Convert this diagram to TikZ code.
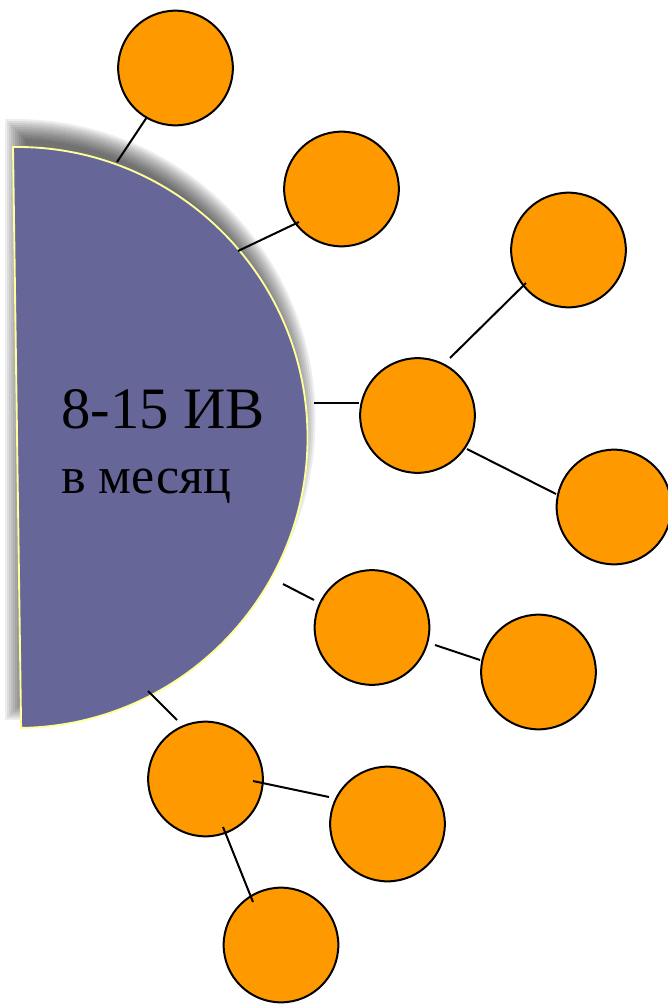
\documentclass[tikz,border=0pt]{standalone}
\usepackage{fontspec}
\setmainfont{Liberation Serif}
\usetikzlibrary{calc}
\definecolor{discblue}{HTML}{666699}
\definecolor{rimyellow}{HTML}{FFFF99}
\definecolor{dotorange}{HTML}{FF9900}

\begin{document}
\begin{tikzpicture}[x=0.75pt,y=-0.75pt,
  disc/.style={fill=discblue,draw=rimyellow,line width=1.4pt},
  blob/.style={circle,fill=dotorange,draw=black,line width=1.5pt,minimum size=86pt,inner sep=0pt},
  link/.style={draw=black,line width=1.5pt},
  caption/.style={anchor=base west,inner sep=0pt}
]
  \useasboundingbox (0,0) rectangle (668,1004);
  % soft shadow behind the half disc
  \foreach \d in {-10,-8,...,10}
    \fill[black,fill opacity=0.07] ({15-(\d)},{129-(\d)}) -- (15,{129-(\d)})
      arc[start angle=-90,end angle=90,radius={290.5+(\d)}] -- ({15-(\d)},{710+(\d)}) -- cycle;
  \draw[disc] (13,147) arc[start angle=-90.8,end angle=89.2,radius=290.5] -- cycle;
  \node[caption,font=\fontsize{44}{48}\selectfont] (count) at (61,428) {8-15 ИВ};
  \node[caption,font=\fontsize{39}{44}\selectfont] (period) at (61,493) {в месяц};
  % rim points of the half disc
  \coordinate (rimA) at (117,162);
  \coordinate (rimB) at (238,251);
  \coordinate (rimC) at (314,403);
  \coordinate (rimD) at (283,584);
  \coordinate (rimE) at (148,691);
  % orange circles
  \node[blob] (c1) at (175.5,68) {};
  \node[blob] (c2) at (341.5,189) {};
  \node[blob] (c3) at (568.5,250) {};
  \node[blob] (c4) at (417.5,415.5) {};
  \node[blob] (c5) at (614,507) {};
  \node[blob] (c6) at (372,627.5) {};
  \node[blob] (c7) at (538.5,672) {};
  \node[blob] (c8) at (205.5,779) {};
  \node[blob] (c9) at (387.5,824) {};
  \node[blob] (c10) at (281,945) {};
  % links
  \draw[link] (rimA) -- ($(c1)+(-28.5,49)$);
  \draw[link] (rimB) -- ($(c2)+(-42.5,33)$);
  \draw[link] ($(c4)+(32.5,-57.5)$) -- ($(c3)+(-42.5,33)$);
  \draw[link] (rimC) -- ($(c4)+(-58.5,-12.5)$);
  \draw[link] ($(c4)+(49.5,33.5)$) -- ($(c5)+(-58,-13)$);
  \draw[link] (rimD) -- ($(c6)+(-58,-27.5)$);
  \draw[link] ($(c6)+(63,17.5)$) -- ($(c7)+(-58.5,-12)$);
  \draw[link] (rimE) -- ($(c8)+(-28.5,-59)$);
  \draw[link] ($(c8)+(47.5,2)$) -- ($(c9)+(-58.5,-27)$);
  \draw[link] ($(c8)+(17.5,48)$) -- ($(c10)+(-28,-43)$);
\end{tikzpicture}
\end{document}
